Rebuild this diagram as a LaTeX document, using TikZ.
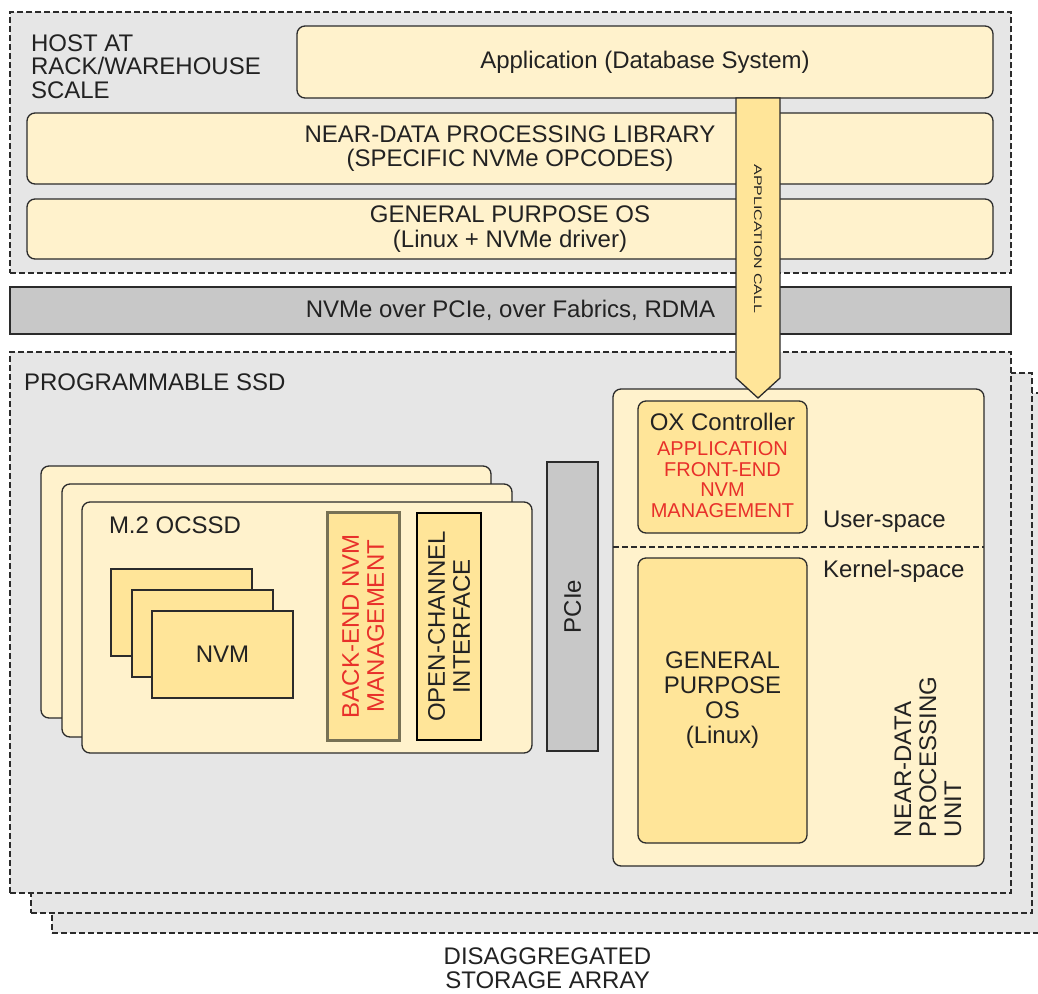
\documentclass[tikz,border=0pt]{standalone}
\usepackage{fontspec}
\setmainfont{Liberation Sans}
\usetikzlibrary{calc}
\definecolor{panelgray}{HTML}{E6E6E6}
\definecolor{bargray}{HTML}{C8C8C8}
\definecolor{paleyellow}{HTML}{FFF2CC}
\definecolor{deepyellow}{HTML}{FFE599}
\definecolor{edge}{HTML}{2B2B2B}
\definecolor{ink}{HTML}{222222}
\definecolor{alert}{HTML}{E8302A}
\definecolor{olivegray}{HTML}{777155}
\newcommand\fsz[2]{\fontsize{#1}{#2}\selectfont}

\begin{document}
\begin{tikzpicture}[x=1pt,y=-1pt,
  every node/.style={text=ink, inner sep=0pt, outer sep=0pt},
  sz/.style 2 args={minimum width=#1, minimum height=#2},
  pnl/.style={draw=edge, fill=panelgray, line width=1.2pt, dash pattern=on 6pt off 3pt},
  lay/.style={draw=edge, fill=paleyellow, line width=1.3pt, rounded corners=8pt},
  dlay/.style={draw=edge, fill=deepyellow, line width=1.3pt, rounded corners=8pt},
  blk/.style={draw=edge, fill=deepyellow, line width=1.3pt},
  bar/.style={draw=edge, fill=bargray, line width=1.3pt},
  lbl/.style={font=\fsz{24}{24.5}, align=center},
  callarrow/.style={draw=edge, fill=deepyellow, line width=1.3pt, line join=miter},
  sep/.style={draw=edge, line width=1.2pt, dash pattern=on 6pt off 3pt}
]
\useasboundingbox (0,0) rectangle (1038,993);

% ---------------- host side ----------------
\node[pnl, sz={1001}{261}] (host) at (510.5,142.5) {};
\node[lbl, align=left, anchor=west, font=\fsz{24}{23.5}] (hostlbl) at (31,66.5)
  {HOST AT\\RACK/WAREHOUSE\\SCALE};
\node[lay, lbl, sz={696}{72}] (app) at (645,62) {Application (Database System)};
\node[lay, lbl, sz={966}{71}] (lib) at (510,148.5)
  {NEAR-DATA PROCESSING LIBRARY\\(SPECIFIC NVMe OPCODES)};
\node[lay, lbl, sz={966}{60}, font=\fsz{24}{25}] (hostos) at (510,229)
  {GENERAL PURPOSE OS\\(Linux + NVMe driver)};

% ---------------- transport ----------------
\node[bar, lbl, sz={1001}{47}] (nvme) at (510.5,310.5) {NVMe over PCIe, over Fabrics, RDMA};

% ---------------- storage array ----------------
\node[pnl, sz={1008}{540}] (ssdc) at (556,663) {};
\node[pnl, sz={1001}{540}] (ssdb) at (531.5,643) {};
\node[pnl, sz={1001}{541}] (ssda) at (510.5,622.5) {};
\node[lbl, anchor=west] (ssdlbl) at (24,382) {PROGRAMMABLE SSD};

% M.2 open-channel SSD cards
\node[lay, sz={450}{252}] (cardc) at (266,592) {};
\node[lay, sz={450}{253}] (cardb) at (287,610.5) {};
\node[lay, sz={450}{251}] (carda) at (307,627.5) {};
\node[lbl, anchor=west] (cardlbl) at (109,525) {M.2 OCSSD};

\node[blk, sz={141}{87}] (nvmc) at (181.5,612.5) {};
\node[blk, sz={141}{87}] (nvmb) at (202.5,633.5) {};
\node[blk, lbl, sz={141}{87}] (nvma) at (222.5,654.5) {NVM};

\node[blk, draw=olivegray, line width=3pt, sz={72}{228}] (backend) at (363,626) {};
\node[lbl, rotate=90, text=alert, font=\fsz{24}{25}] (backendtxt) at (backend.center)
  {BACK-END NVM\\MANAGEMENT};
\node[blk, draw=black, line width=1.6pt, sz={64}{227}] (ochan) at (449,626.5) {};
\node[lbl, rotate=90, font=\fsz{24}{25}] (ochantxt) at (ochan.center)
  {OPEN-CHANNEL\\INTERFACE};

\node[bar, sz={51}{289}] (pcie) at (572.5,606.5) {};
\node[lbl, rotate=90] (pcietxt) at (pcie.center) {PCIe};

% near-data processing unit
\node[lay, sz={371}{477}] (ndpu) at (798.5,627.5) {};
\node[dlay, sz={169}{132}] (oxc) at (722.5,467) {};
\node[lbl] (oxtitle) at (722.5,422) {OX Controller};
\node[lbl, text=alert, font=\fsz{20}{20.7}] (oxrole) at (722.5,479.5)
  {APPLICATION\\FRONT-END\\NVM\\MANAGEMENT};
\node[lbl, anchor=west] (userlbl) at (823,522) {User-space};
\coordinate (sepl) at (613,547);
\coordinate (sepr) at (984,547);
\draw[sep] (sepl) -- (sepr);
\node[lbl, anchor=west] (kernlbl) at (823,571) {Kernel-space};
\node[dlay, sz={169}{285}] (gpos) at (722.5,700.5) {};
\node[lbl, font=\fsz{24}{25}] (gpostxt) at (722.5,700.5)
  {GENERAL\\PURPOSE\\OS\\(Linux)};
\node[lbl, rotate=90, align=left, anchor=west, font=\fsz{24}{25}] (ndpulbl) at (928,837)
  {NEAR-DATA\\PROCESSING\\UNIT};

% application call from the host down to the controller
\coordinate (callstart) at (758,98);
\coordinate (calltip) at (758,398);
\draw[callarrow] ($(callstart)+(-22,0)$) -- ($(callstart)+(22,0)$)
  -- ($(calltip)+(22,-20)$) -- (calltip) -- ($(calltip)+(-22,-20)$) -- cycle;
\node[rotate=-90] (calltxt) at (758,239)
  {\scalebox{1.45}[1]{\fsz{11}{13}APPLICATION CALL}};

% caption
\node[lbl, font=\fsz{24}{24}] (caption) at (547.5,968)
  {DISAGGREGATED\\STORAGE ARRAY};
\end{tikzpicture}
\end{document}
